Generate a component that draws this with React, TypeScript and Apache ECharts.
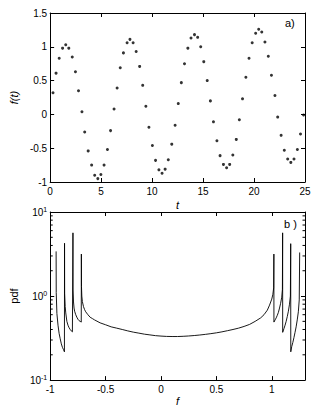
import React, { useEffect, useRef } from "react";
import * as echarts from "echarts";

// ---- panel a) : sampled signal f(t) ----
const tValues = [
  0.28, 0.58, 0.89, 1.22, 1.53, 1.83, 2.17, 2.48, 2.78, 3.12,
  3.39, 3.73, 4.07, 4.37, 4.68, 4.98, 5.29, 5.62, 5.93, 6.27,
  6.57, 6.88, 7.19, 7.55, 7.83, 8.14, 8.44, 8.78, 9.08, 9.39,
  9.69, 10.03, 10.34, 10.67, 10.98, 11.28, 11.59, 11.93, 12.26, 12.57,
  12.87, 13.18, 13.51, 13.82, 14.16, 14.47, 14.77, 15.07, 15.41, 15.72,
  16.02, 16.36, 16.67, 17.0, 17.31, 17.61, 17.92, 18.26, 18.56, 18.87,
  19.2, 19.51, 19.82, 20.16, 20.46, 20.76, 21.07, 21.4, 21.71, 22.05,
  22.32, 22.66, 22.97, 23.3, 23.61, 23.92, 24.25, 24.56, 24.86,
];
const fValues = [
  0.32, 0.61, 0.83, 0.98, 1.03, 0.98, 0.85, 0.63, 0.35, 0.04,
  -0.26, -0.54, -0.75, -0.9, -0.95, -0.89, -0.75, -0.52, -0.24, 0.08,
  0.39, 0.69, 0.91, 1.06, 1.11, 1.06, 0.93, 0.71, 0.43, 0.12,
  -0.19, -0.46, -0.68, -0.82, -0.87, -0.81, -0.67, -0.44, -0.16, 0.16,
  0.47, 0.75, 0.98, 1.13, 1.18, 1.14, 1.0, 0.78, 0.5, 0.2,
  -0.11, -0.39, -0.61, -0.74, -0.79, -0.74, -0.6, -0.37, -0.08, 0.23,
  0.55, 0.83, 1.06, 1.2, 1.26, 1.22, 1.07, 0.86, 0.58, 0.28,
  -0.04, -0.31, -0.53, -0.66, -0.71, -0.66, -0.52, -0.29, -0.01,
];

// ---- panel b) : pdf of f ----
const pdfF = [
  -0.947, -0.946, -0.94, -0.93, -0.92, -0.91, -0.9, -0.89, -0.88, -0.872,
  -0.871, -0.87, -0.865, -0.86, -0.85, -0.84, -0.83, -0.82, -0.81, -0.8, -0.796,
  -0.795, -0.794, -0.79, -0.785, -0.78, -0.77, -0.76, -0.75, -0.74, -0.73, -0.72,
  -0.719, -0.718, -0.715, -0.71, -0.7, -0.69, -0.68, -0.66, -0.64, -0.62, -0.6,
  -0.55, -0.5, -0.45, -0.4, -0.35, -0.3, -0.25, -0.2, -0.15, -0.1, -0.05,
  0, 0.05, 0.1, 0.15, 0.2, 0.25, 0.3, 0.35, 0.4, 0.45, 0.5, 0.55, 0.6, 0.65,
  0.7, 0.75, 0.8, 0.85, 0.9, 0.93, 0.96, 0.98, 1.0, 1.01, 1.017, 1.019,
  1.0195, 1.03, 1.04, 1.05, 1.06, 1.07, 1.08, 1.09, 1.096, 1.098,
  1.0985, 1.11, 1.12, 1.13, 1.14, 1.15, 1.16, 1.168, 1.171,
  1.1715, 1.18, 1.19, 1.2, 1.21, 1.22, 1.23, 1.24, 1.248, 1.252,
];
const pdfP = [
  3.4, 1.1, 0.62, 0.45, 0.36, 0.31, 0.27, 0.245, 0.23, 0.217,
  4.25, 1.08, 0.75, 0.63, 0.5, 0.45, 0.42, 0.4, 0.385, 0.375, 0.37,
  5.65, 1.18, 0.85, 0.72, 0.66, 0.6, 0.56, 0.53, 0.51, 0.5, 0.49,
  3.16, 1.3, 1.0, 0.86, 0.75, 0.69, 0.65, 0.6, 0.56, 0.54, 0.52,
  0.48, 0.455, 0.43, 0.415, 0.4, 0.385, 0.372, 0.362, 0.352, 0.345, 0.338,
  0.334, 0.331, 0.33, 0.33, 0.332, 0.335, 0.339, 0.344, 0.35, 0.357, 0.365, 0.375, 0.387, 0.4,
  0.415, 0.435, 0.46, 0.5, 0.55, 0.6, 0.68, 0.78, 0.92, 1.05, 1.25, 3.16,
  0.49, 0.52, 0.55, 0.59, 0.64, 0.72, 0.82, 0.97, 1.2, 5.65,
  0.37, 0.41, 0.45, 0.5, 0.57, 0.66, 0.8, 1.0, 4.2,
  0.217, 0.25, 0.28, 0.32, 0.37, 0.43, 0.52, 0.65, 0.9, 3.3,
];

const logMinorTicks = [0.2, 0.3, 0.4, 0.5, 0.6, 0.7, 0.8, 0.9, 2, 3, 4, 5, 6, 7, 8, 9];

const tMin = 0, tMax = 25, tStep = 5;
const fyMin = -1, fyMax = 1.5, fyStep = 0.5;
const fxMin = -1, fxMax = 1.3, fxStep = 0.5;
const pMin = 0.1, pMax = 10;

const FONT = "Liberation Sans, Arial, sans-serif";

export default function App() {
  const ref = useRef<HTMLDivElement>(null);
  useEffect(() => {
    const chart = echarts.init(ref.current!, null, { renderer: "svg" });
    const line = { show: true, onZero: false, lineStyle: { color: "#000", width: 1 } };
    const tick = { show: true, inside: true, length: 4, lineStyle: { color: "#000", width: 1 } };
    const label = { color: "#000", fontSize: 10, fontFamily: FONT, margin: 4 };
    const noLabel = { show: false };
    const split = { show: false };

    chart.setOption({
      animation: false,
      backgroundColor: "#fff",
      textStyle: { fontFamily: FONT },
      grid: [
        { left: 31, top: 13, width: 274, height: 169 },
        { left: 31, top: 212, width: 274, height: 172 },
      ],
      xAxis: [
        {
          gridIndex: 0, type: "value", min: tMin, max: tMax, interval: tStep, position: "bottom",
          axisLine: line, axisTick: tick, axisLabel: label, splitLine: split,
          name: "t", nameLocation: "middle", nameGap: 17,
          nameTextStyle: { fontStyle: "italic", fontSize: 11, color: "#000", fontFamily: FONT },
        },
        {
          gridIndex: 0, type: "value", min: tMin, max: tMax, interval: tStep, position: "top",
          axisLine: line, axisTick: tick, axisLabel: noLabel, splitLine: split,
        },
        {
          gridIndex: 1, type: "value", min: fxMin, max: fxMax, interval: fxStep, position: "bottom",
          axisLine: line, axisTick: tick, axisLabel: { ...label, showMaxLabel: false }, splitLine: split,
          name: "f", nameLocation: "middle", nameGap: 8,
          nameTextStyle: { fontStyle: "italic", fontSize: 11, color: "#000", fontFamily: FONT },
        },
        {
          gridIndex: 1, type: "value", min: fxMin, max: fxMax, interval: fxStep, position: "top",
          axisLine: line, axisTick: tick, axisLabel: noLabel, splitLine: split,
        },
      ],
      yAxis: [
        {
          gridIndex: 0, type: "value", min: fyMin, max: fyMax, interval: fyStep, position: "left",
          axisLine: line, axisTick: tick, axisLabel: { ...label, margin: 3 }, splitLine: split,
          name: "f(t)", nameLocation: "middle", nameGap: 21,
          nameTextStyle: { fontStyle: "italic", fontSize: 11, color: "#000", fontFamily: FONT },
        },
        {
          gridIndex: 0, type: "value", min: fyMin, max: fyMax, interval: fyStep, position: "right",
          axisLine: line, axisTick: tick, axisLabel: noLabel, splitLine: split,
        },
        {
          gridIndex: 1, type: "log", logBase: 10, min: pMin, max: pMax, position: "left",
          axisLine: line, axisTick: tick, splitLine: split,
          axisLabel: {
            ...label, margin: 3,
            formatter: (v: number) => `10{e|${Math.round(Math.log10(v))}}`,
            rich: { e: { fontSize: 7, fontFamily: FONT, color: "#000", padding: [0, 0, 6, 0] } },
          },
          name: "pdf", nameLocation: "middle", nameGap: 21,
          nameTextStyle: { fontSize: 11, color: "#000", fontFamily: FONT },
        },
        {
          gridIndex: 1, type: "log", logBase: 10, min: pMin, max: pMax, position: "right",
          axisLine: line, axisTick: tick, axisLabel: noLabel, splitLine: split,
        },
      ],
      graphic: [
        { type: "text", left: 285, top: 17, style: { text: "a)", fontSize: 11, fontFamily: FONT, fill: "#000" } },
        { type: "text", left: 284, top: 218, style: { text: "b )", fontSize: 11, fontFamily: FONT, fill: "#000" } },
      ],
      series: [
        {
          type: "scatter", xAxisIndex: 0, yAxisIndex: 0,
          data: tValues.map((t, i) => [t, fValues[i]]),
          symbol: "circle", symbolSize: 3, itemStyle: { color: "#000" },
        },
        {
          type: "line", xAxisIndex: 2, yAxisIndex: 2,
          data: pdfF.map((f, i) => [f, pdfP[i]]),
          showSymbol: false, symbol: "none", lineStyle: { color: "#000", width: 0.9 },
        },
        {
          type: "custom", xAxisIndex: 2, yAxisIndex: 2, silent: true, clip: false,
          data: logMinorTicks.map((v) => [fxMin, v]),
          renderItem: (params: any, api: any) => {
            const v = api.value(1);
            const l = api.coord([fxMin, v]);
            const r = api.coord([fxMax, v]);
            const st = { stroke: "#000", lineWidth: 1 };
            return {
              type: "group",
              children: [
                { type: "line", shape: { x1: l[0], y1: l[1], x2: l[0] + 2.5, y2: l[1] }, style: st },
                { type: "line", shape: { x1: r[0] - 2.5, y1: r[1], x2: r[0], y2: r[1] }, style: st },
              ],
            };
          },
        },
      ],
    });
    return () => chart.dispose();
  }, []);
  return (
    <div
      ref={ref}
      style={{ position: "fixed", left: 0, top: 0, width: 316, height: 407, background: "#fff" }}
    />
  );
}
